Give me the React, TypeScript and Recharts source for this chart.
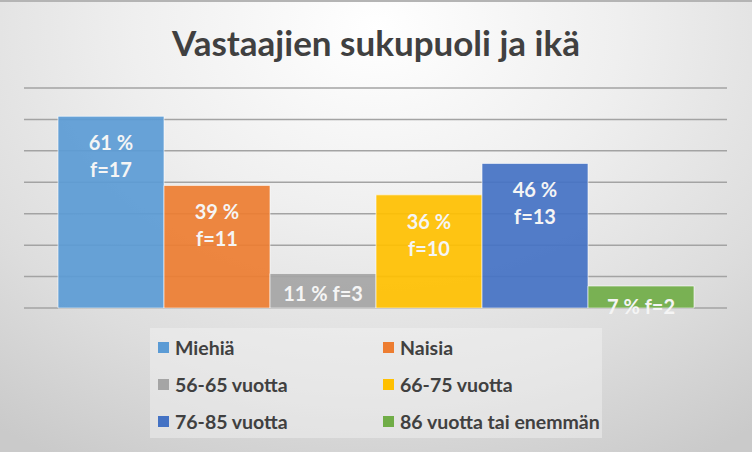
import { BarChart, Bar, XAxis, YAxis, CartesianGrid, LabelList, Legend } from "recharts";

const seriesNames = ["Miehiä", "Naisia", "56-65 vuotta", "66-75 vuotta", "76-85 vuotta", "86 vuotta tai enemmän"];
const percents = [61, 39, 11, 36, 46, 7];
const counts = [17, 11, 3, 10, 13, 2];
const colors = ["#5B9BD5", "#ED7D31", "#A5A5A5", "#FFC000", "#4472C4", "#70AD47"];
const yTicks = [0, 10, 20, 30, 40, 50, 60, 70];

const row: Record<string, string | number> = { name: "Vastaajat" };
percents.forEach((p, i) => {
    row[`s${i}`] = p;
});
const data = [row];

const FONT = "Lato, 'Open Sans', sans-serif";

function makeLabel(i: number) {
    return (props: any) => {
        const { x, y, width, height } = props;
        const cx = Number(x) + Number(width) / 2;
        const top = Number(y);
        const pct = `${percents[i]} %`;
        const f = `f=${counts[i]}`;
        const style = { fontFamily: FONT, fontWeight: 700, fontSize: 20, fill: "#f5f5f5" };
        if (Number(height) > 60) {
            return (
                <g>
                    <text x={cx} y={top + 26} textAnchor="middle" dominantBaseline="central" style={style}>{pct}</text>
                    <text x={cx} y={top + 53} textAnchor="middle" dominantBaseline="central" style={style}>{f}</text>
                </g>
            );
        }
        return (
            <text x={cx} y={top + 20} textAnchor="middle" dominantBaseline="central" style={style}>
                {`${pct} ${f}`}
            </text>
        );
    };
}

function LegendBox() {
    return (
        <div
            style={{
                width: 452,
                height: 110,
                background: "rgba(245,245,245,0.45)",
                display: "grid",
                gridTemplateColumns: "225px 227px",
                gridTemplateRows: "repeat(3, 37px)",
                alignItems: "center",
                boxSizing: "border-box",
                paddingTop: 1,
            }}
        >
            {seriesNames.map((n, i) => (
                <div key={n} style={{ display: "flex", alignItems: "center", paddingLeft: 8 }}>
                    <span style={{ width: 11, height: 11, background: colors[i], display: "inline-block", marginRight: 6 }} />
                    <span style={{ fontFamily: FONT, fontWeight: 700, fontSize: 19.5, color: "#404040", whiteSpace: "nowrap" }}>{n}</span>
                </div>
            ))}
        </div>
    );
}

export default function App() {
    return (
        <div
            style={{
                position: "absolute",
                left: 0,
                top: 0,
                width: 752,
                height: 452,
                background:
                    "radial-gradient(ellipse 85% 110% at 50% 6%, #ffffff 0%, #efefef 38%, #dddddd 72%, #cacaca 100%)",
                borderTop: "2px solid #b4b4b4",
                boxSizing: "border-box",
            }}
        >
            <div
                style={{
                    position: "absolute",
                    top: 19,
                    left: 0,
                    width: 752,
                    textAlign: "center",
                    fontFamily: FONT,
                    fontWeight: 700,
                    fontSize: 35,
                    color: "#404040",
                }}
            >
                Vastaajien sukupuoli ja ikä
            </div>
            <BarChart
                width={752}
                height={450}
                data={data}
                margin={{ top: 86, right: 25, bottom: 144, left: 24 }}
                barCategoryGap={34}
                barGap={0}
                style={{ position: "absolute", top: 0, left: 0 }}
            >
                <CartesianGrid vertical={false} stroke="#a3a3a3" strokeWidth={1.5} />
                <XAxis dataKey="name" hide />
                <YAxis hide domain={[0, 70]} ticks={yTicks} />
                {percents.map((_, i) => (
                    <Bar
                        key={i}
                        dataKey={`s${i}`}
                        name={seriesNames[i]}
                        fill={colors[i]}
                        fillOpacity={0.92}
                        stroke="#ffffff"
                        strokeOpacity={0.6}
                        strokeWidth={1}
                        isAnimationActive={false}
                    >
                        <LabelList dataKey={`s${i}`} content={makeLabel(i)} />
                    </Bar>
                ))}
                <Legend
                    layout="horizontal"
                    verticalAlign="middle"
                    align="center"
                    content={() => <LegendBox />}
                    wrapperStyle={{ position: "absolute", top: 326, left: 150, width: 452, height: 110 }}
                />
            </BarChart>
        </div>
    );
}
